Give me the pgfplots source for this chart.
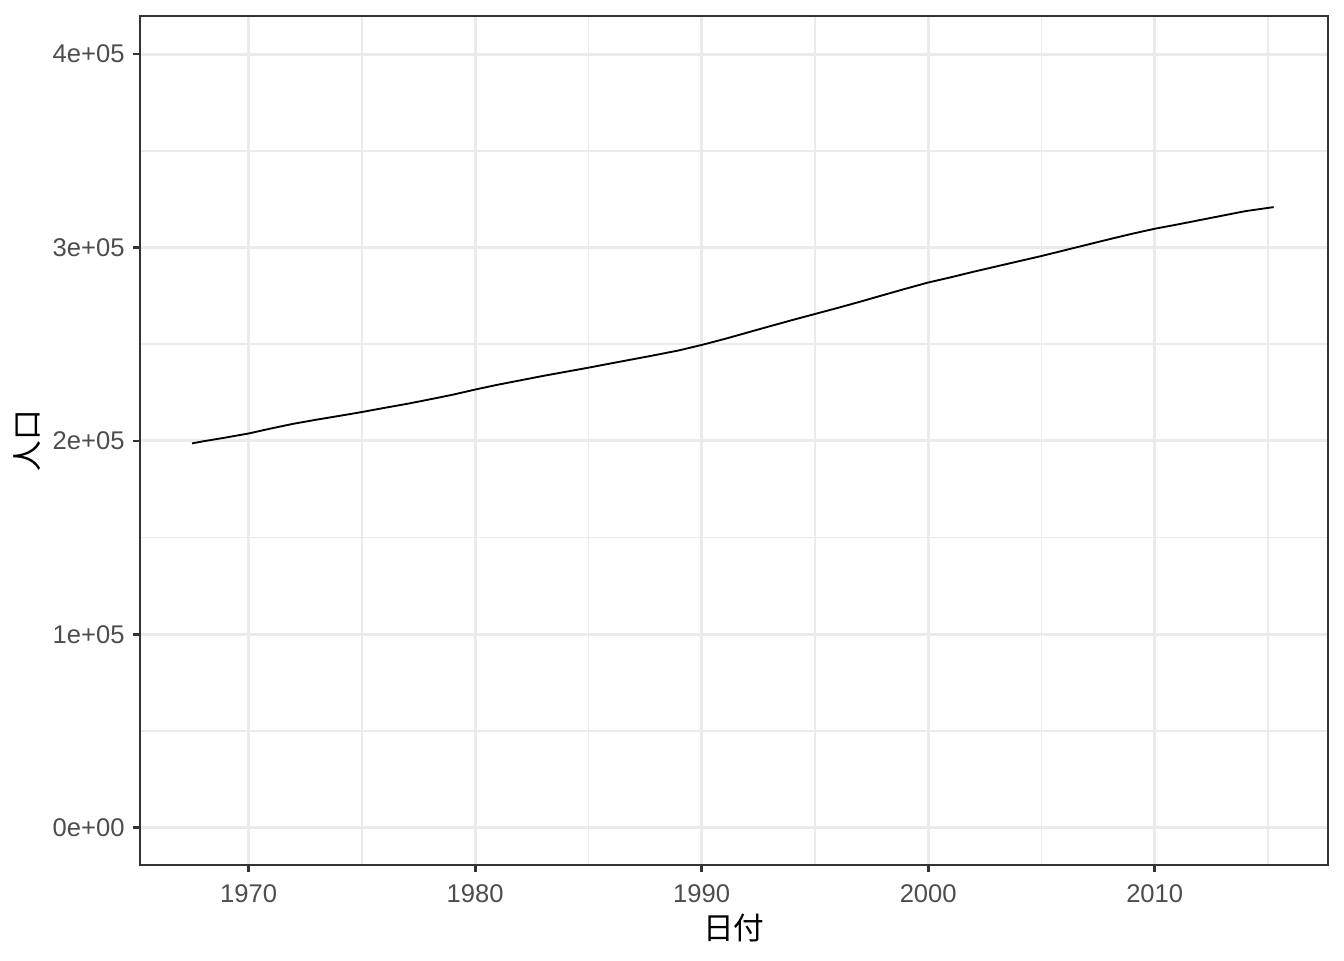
\documentclass[border=0pt]{standalone}
\usepackage{fontspec}
\setmainfont{Liberation Sans}
\newfontfamily\cjk{Noto Sans CJK JP}
\usepackage{pgfplots}
\pgfplotsset{compat=1.18}
\definecolor{gray92}{HTML}{EBEBEB}
\definecolor{gray20}{HTML}{333333}
\definecolor{gray30}{HTML}{4D4D4D}
\begin{document}
\begin{tikzpicture}
\begin{axis}[
  at={(0,0)}, anchor=south west,
  scale only axis, width=445.5pt, height=318.375pt,
  xmin=1965.2, xmax=2017.65, ymin=-19300, ymax=419700,
  xtick={1970,1980,1990,2000,2010},
  xticklabels={1970,1980,1990,2000,2010},
  minor xtick={1965,1975,1985,1995,2005,2015},
  ytick={0,100000,200000,300000,400000},
  yticklabels={0e+00,1e+05,2e+05,3e+05,4e+05},
  minor ytick={50000,150000,250000,350000},
  scaled y ticks=false,
  grid=both,
  major grid style={color=gray92, line width=1.07pt},
  minor grid style={color=gray92, line width=0.53pt},
  tick align=outside, tick pos=left,
  major tick length=2.75pt, minor tick length=0pt,
  every tick/.style={color=gray20, line width=1pt},
  axis line style={color=gray20, line width=0.8pt},
  ticklabel style={font=\fontsize{9.6}{11}\selectfont, text=gray30},
  xticklabel style={yshift=-1.1pt},
  yticklabel style={xshift=0.5pt},
  xlabel={日付}, ylabel={人口},
  xlabel style={at={(axis description cs:0.5,-0.0742)}, anchor=center, font=\cjk\fontsize{11.5}{13}\selectfont},
  ylabel style={at={(axis description cs:-0.0951,0.5)}, anchor=center, rotate=0, font=\cjk\fontsize{11.5}{13}\selectfont},
]
\addplot[black, line width=0.7pt] coordinates {
(1967.5,198712) (1968.0,199808) (1969.0,201760) (1970.0,203849) (1971.0,206466)
(1972.0,208917) (1973.0,210985) (1974.0,212932) (1975.0,214931) (1976.0,217095)
(1977.0,219179) (1978.0,221477) (1979.0,223865) (1980.0,226554) (1981.0,229060)
(1982.0,231329) (1983.0,233613) (1984.0,235737) (1985.0,237857) (1986.0,240099)
(1987.0,242288) (1988.0,244502) (1989.0,246819) (1990.0,249623) (1991.0,252673)
(1992.0,255962) (1993.0,259262) (1994.0,262488) (1995.0,265621) (1996.0,268749)
(1997.0,272001) (1998.0,275358) (1999.0,278680) (2000.0,281900) (2001.0,284600)
(2002.0,287465) (2003.0,290190) (2004.0,292900) (2005.0,295600) (2006.0,298500)
(2007.0,301400) (2008.0,304300) (2009.0,307100) (2010.0,309700) (2011.0,311900)
(2012.0,314200) (2013.0,316500) (2014.0,318800) (2015.25,320887)
};
\end{axis}
\pgfresetboundingbox
\useasboundingbox (-52.5pt,-35.625pt) rectangle (451.5pt,324.375pt);
\end{tikzpicture}
\end{document}
